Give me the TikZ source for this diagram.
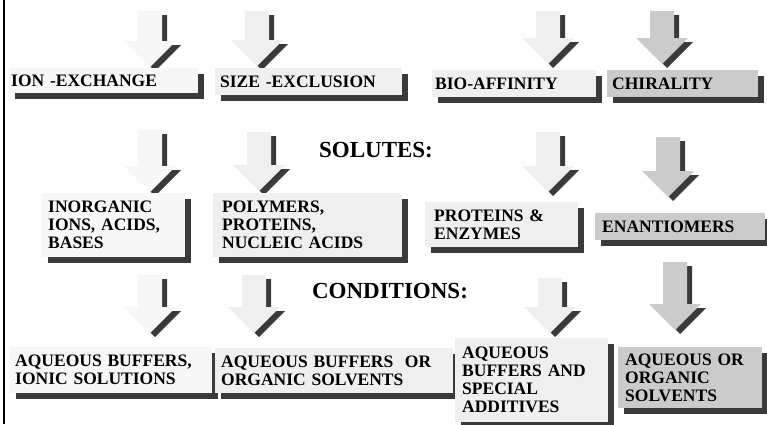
\documentclass[tikz,border=0pt]{standalone}
\usepackage{fontspec}
\setmainfont{Liberation Serif}
\usepackage{tikz}
\usetikzlibrary{shadows}
\definecolor{shadowgray}{HTML}{3A3A3A}
\definecolor{paleA}{HTML}{F7F7F7}
\definecolor{paleB}{HTML}{EFEFEF}
\definecolor{midgray}{HTML}{CBCBCB}
% block arrow pointing down: x, top, tip, colour
\newcommand{\blockarrow}[4]{%
  \fill[shadowgray, shift={(5,4)}] (#1-12,#2) -- (#1+12,#2) -- (#1+12,#3-26) -- (#1+26,#3-26)
    -- (#1,#3) -- (#1-26,#3-26) -- (#1-12,#3-26) -- cycle;
  \fill[#4] (#1-12,#2) -- (#1+12,#2) -- (#1+12,#3-26) -- (#1+26,#3-26)
    -- (#1,#3) -- (#1-26,#3-26) -- (#1-12,#3-26) -- cycle;}

\begin{document}
\begin{tikzpicture}[x=1pt, y=-1pt,
    card/.style={rectangle, anchor=north west, inner xsep=5pt, inner ysep=0pt, align=left,
      font=\bfseries\fontsize{17.5}{18}\selectfont,
      drop shadow={shadow xshift=6pt, shadow yshift=-6pt, fill=shadowgray, opacity=1}},
    heading/.style={anchor=base, font=\bfseries\fontsize{23}{25}\selectfont}]
    \useasboundingbox (0,0) rectangle (767,424);
    \draw[line width=1.3pt] (4,0) -- (4,424);

    % arrows, drawn first so the cards cover their tips
    \blockarrow{150}{11}{67}{paleA}
    \blockarrow{257}{11}{66}{paleB}
    \blockarrow{548}{11}{64}{paleB}
    \blockarrow{662}{11}{64}{midgray}
    \blockarrow{150}{130}{192}{paleA}
    \blockarrow{259}{132}{191}{paleB}
    \blockarrow{548}{132}{192}{paleB}
    \blockarrow{668}{137}{197}{midgray}
    \blockarrow{150}{275}{333}{paleA}
    \blockarrow{254}{275}{333}{paleB}
    \blockarrow{550}{278}{333}{paleB}
    \blockarrow{675}{262}{330}{midgray}

    % first row: separation modes
    \node[card, fill=paleA, inner xsep=2pt, minimum height=25pt, text width=185pt] (ionex) at (9,68) {ION -EXCHANGE};
    \node[card, fill=paleB, minimum height=27pt, text width=177pt] (sizex) at (215,68) {SIZE -EXCLUSION};
    \node[card, fill=paleB, inner xsep=3pt, minimum height=27pt, text width=158pt] (bioaff) at (432,70) {BIO-AFFINITY};
    \node[card, fill=midgray, minimum height=27pt, text width=141pt] (chiral) at (607,70) {CHIRALITY};

    % second row: solutes
    \node[heading] (solutes) at (376,157) {SOLUTES:};
    \node[card, fill=paleA, inner xsep=6pt, minimum height=64pt, text width=131pt] (inorg) at (42,193) {INORGANIC\\IONS, ACIDS,\\BASES};
    \node[card, fill=paleB, inner xsep=9pt, minimum height=64pt, text width=171pt] (polym) at (213,193) {POLYMERS,\\PROTEINS,\\NUCLEIC ACIDS};
    \node[card, fill=paleB, inner xsep=9pt, minimum height=45pt, text width=135pt] (protein) at (425,202) {PROTEINS \&\\ENZYMES};
    \node[card, fill=midgray, inner xsep=7pt, minimum height=27pt, text width=156pt] (enant) at (595,213) {ENANTIOMERS};

    % third row: conditions
    \node[heading] (conds) at (390,298) {CONDITIONS:};
    \node[card, fill=paleA, minimum height=46pt, text width=192pt] (aqionic) at (10,347) {AQUEOUS BUFFERS,\\IONIC SOLUTIONS};
    \node[card, fill=paleB, inner xsep=6pt, minimum height=45pt, text width=226pt] (aqorg) at (215,348) {AQUEOUS BUFFERS \ OR\\ORGANIC SOLVENTS};
    \node[card, fill=paleB, inner xsep=7pt, minimum height=84pt, text width=139pt] (aqadd) at (455,338) {AQUEOUS\\BUFFERS AND\\SPECIAL\\ADDITIVES};
    \node[card, fill=midgray, inner xsep=7pt, minimum height=61pt, text width=130pt] (aqsolv) at (618,347) {AQUEOUS OR\\ORGANIC\\SOLVENTS};
\end{tikzpicture}
\end{document}
